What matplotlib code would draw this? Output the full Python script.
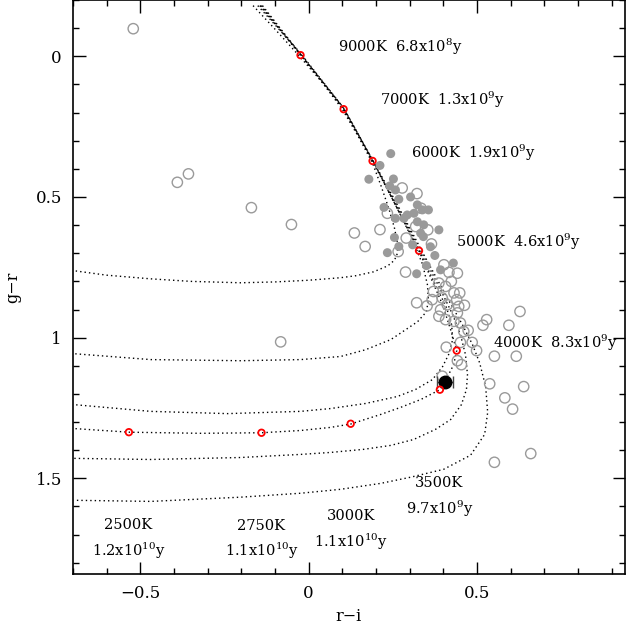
import matplotlib
matplotlib.use("Agg")
import matplotlib.pyplot as plt
from matplotlib.ticker import MultipleLocator, FixedLocator, FixedFormatter

plt.rcParams['font.family'] = ['DejaVu Serif']
plt.rcParams['mathtext.fontset'] = 'dejavuserif'
plt.rcParams['mathtext.default'] = 'regular'

# ---------------- data ----------------
# model tracks (r-i, g-r)
trackA_x = [-0.165, -0.095, -0.03, 0.04, 0.10, 0.15, 0.19, 0.215, 0.238, 0.255, 0.265, 0.264, 0.255, 0.235, 0.193, 0.14, 0.095, 0.0, -0.1, -0.202, -0.35, -0.469, -0.6, -0.698]
trackA_y = [-0.18, -0.09, -0.004, 0.092, 0.188, 0.29, 0.38, 0.46, 0.54, 0.61, 0.67, 0.70, 0.725, 0.745, 0.766, 0.78, 0.787, 0.796, 0.802, 0.805, 0.8, 0.791, 0.778, 0.762]

trackB_x = [-0.151, -0.024, 0.104, 0.19, 0.258, 0.309, 0.339, 0.353, 0.356, 0.35, 0.324, 0.288, 0.244, 0.169, 0.095, -0.024, -0.202, -0.469, -0.698]
trackB_y = [-0.18, -0.011, 0.184, 0.369, 0.528, 0.652, 0.741, 0.812, 0.865, 0.908, 0.943, 0.972, 1.007, 1.043, 1.067, 1.078, 1.082, 1.078, 1.057]

trackC_x = [-0.145, -0.024, 0.104, 0.19, 0.258, 0.328, 0.377, 0.410, 0.425, 0.428, 0.416, 0.398, 0.368, 0.318, 0.264, 0.169, 0.065, -0.024, -0.241, -0.469, -0.698]
trackC_y = [-0.18, -0.007, 0.188, 0.372, 0.528, 0.691, 0.812, 0.894, 0.954, 1.007, 1.06, 1.103, 1.149, 1.184, 1.209, 1.234, 1.252, 1.262, 1.27, 1.262, 1.238]

trackD_x = [-0.143, -0.024, 0.104, 0.19, 0.258, 0.328, 0.368, 0.398, 0.422, 0.44, 0.431, 0.405, 0.39, 0.333, 0.273, 0.214, 0.125, 0.065, -0.024, -0.14, -0.321, -0.534, -0.698]
trackD_y = [-0.18, -0.004, 0.188, 0.372, 0.528, 0.691, 0.801, 0.883, 0.972, 1.046, 1.096, 1.157, 1.185, 1.22, 1.248, 1.273, 1.307, 1.319, 1.33, 1.338, 1.34, 1.336, 1.323]

trackE_x = [-0.14, -0.024, 0.104, 0.19, 0.261, 0.333, 0.392, 0.428, 0.451, 0.466, 0.472, 0.469, 0.454, 0.422, 0.377, 0.312, 0.244, 0.163, 0.065, -0.024, -0.202, -0.469, -0.698]
trackE_y = [-0.18, -0.007, 0.184, 0.369, 0.528, 0.691, 0.83, 0.918, 0.989, 1.06, 1.131, 1.184, 1.238, 1.291, 1.326, 1.362, 1.383, 1.397, 1.408, 1.415, 1.426, 1.433, 1.429]

trackF_x = [-0.137, -0.024, 0.104, 0.19, 0.264, 0.336, 0.407, 0.457, 0.487, 0.508, 0.526, 0.532, 0.523, 0.481, 0.401, 0.303, 0.214, 0.095, -0.024, -0.202, -0.469, -0.698]
trackF_y = [-0.18, -0.007, 0.184, 0.369, 0.528, 0.691, 0.848, 0.954, 1.025, 1.089, 1.174, 1.266, 1.344, 1.418, 1.468, 1.496, 1.518, 1.539, 1.553, 1.567, 1.582, 1.578]

# observed stars: filled grey
filled_x = [0.244, 0.212, 0.179, 0.252, 0.241, 0.258, 0.224, 0.268, 0.323, 0.338, 0.356, 0.313, 0.293, 0.258, 0.283,
            0.323, 0.342, 0.333, 0.341, 0.387, 0.255, 0.234, 0.321, 0.375, 0.35, 0.392, 0.43, 0.268, 0.303, 0.362, 0.309]
filled_y = [0.346, 0.388, 0.437, 0.436, 0.461, 0.475, 0.537, 0.508, 0.528, 0.546, 0.546, 0.558, 0.564, 0.576, 0.576,
            0.588, 0.599, 0.629, 0.641, 0.617, 0.644, 0.698, 0.773, 0.708, 0.744, 0.759, 0.735, 0.676, 0.5, 0.677, 0.67]

# observed stars: open grey
open_x = [-0.521, -0.39, -0.357, -0.17, -0.051, -0.083, 0.136, 0.168, 0.212, 0.234, 0.278, 0.322, 0.334, 0.266, 0.288,
          0.354, 0.365, 0.318, 0.29, 0.321, 0.352, 0.367, 0.463, 0.474, 0.461, 0.451, 0.486, 0.499, 0.409, 0.442,
          0.454, 0.397, 0.518, 0.529, 0.595, 0.628, 0.552, 0.617, 0.538, 0.639, 0.583, 0.606, 0.66, 0.552,
          0.402, 0.417, 0.424, 0.407, 0.432, 0.44, 0.446, 0.392, 0.387, 0.407, 0.451, 0.442, 0.387, 0.371, 0.397,
          0.412, 0.442, 0.432, 0.449]
open_y = [-0.098, 0.448, 0.418, 0.538, 0.598, 1.015, 0.628, 0.676, 0.616, 0.558, 0.468, 0.488, 0.54, 0.694, 0.767,
          0.617, 0.667, 0.605, 0.646, 0.876, 0.887, 0.865, 0.885, 0.974, 0.978, 1.017, 1.017, 1.046, 1.034, 1.082,
          1.096, 1.137, 0.956, 0.936, 0.956, 0.907, 1.066, 1.066, 1.164, 1.174, 1.214, 1.254, 1.412, 1.443,
          0.741, 0.768, 0.8, 0.818, 0.841, 0.865, 0.889, 0.901, 0.924, 0.936, 0.948, 0.771, 0.806, 0.836, 0.859,
          0.883, 0.912, 0.942, 0.841]

# marked track points (red)
mark_x = [-0.024, 0.104, 0.19, 0.328, 0.44, 0.39, 0.125, -0.14, -0.534]
mark_y = [-0.004, 0.188, 0.372, 0.691, 1.046, 1.185, 1.306, 1.338, 1.336]

# target star with error bar
target_x = [0.405]
target_y = [1.157]
target_xerr = [0.023]

# annotations
labels_right = ['9000K  6.8x10$^{8}$y', '7000K  1.3x10$^{9}$y', '6000K  1.9x10$^{9}$y',
                '5000K  4.6x10$^{9}$y', '4000K  8.3x10$^{9}$y']
labels_right_pos = [(0.086, -0.035), (0.211, 0.156), (0.303, 0.344), (0.437, 0.66), (0.549, 1.018)]
labels_temp = ['3500K', '3000K', '2750K', '2500K']
labels_age = ['9.7x10$^{9}$y', '1.1x10$^{10}$y', '1.1x10$^{10}$y', '1.2x10$^{10}$y']
labels_low_pos = [(0.389, 1.518, 1.61), (0.125, 1.635, 1.727), (-0.14, 1.67, 1.759), (-0.535, 1.667, 1.759)]

xticks = [-0.5, 0, 0.5]
xticklabels = ['\u22120.5', '0', '0.5']
yticks = [0, 0.5, 1, 1.5]
yticklabels = ['0', '0.5', '1', '1.5']

# ---------------- plot ----------------
fig = plt.figure(figsize=(6.32, 6.32), dpi=100)
ax = fig.add_axes([73 / 632, 58 / 632, 552 / 632, 574 / 632])

dot = (0, (1, 2.2))
for tx, ty in [(trackA_x, trackA_y), (trackB_x, trackB_y), (trackC_x, trackC_y),
               (trackD_x, trackD_y), (trackE_x, trackE_y), (trackF_x, trackF_y)]:
    ax.plot(tx, ty, color='black', lw=1.0, linestyle=dot, zorder=2)

ax.scatter(open_x, open_y, s=55, facecolors='none', edgecolors='#9a9a9a', linewidths=1.0, zorder=3)
ax.scatter(filled_x, filled_y, s=42, color='#9a9a9a', edgecolors='none', zorder=3)
ax.scatter(mark_x, mark_y, s=22, facecolors='none', edgecolors='red', linewidths=1.3, zorder=5)
ax.errorbar(target_x, target_y, xerr=target_xerr, fmt='o', color='black', ms=9,
            ecolor='#444444', elinewidth=1.0, capsize=4, capthick=1.0, zorder=4)

for txt, (x, y) in zip(labels_right, labels_right_pos):
    ax.text(x, y, txt, fontsize=10.5, ha='left', va='center', zorder=6)
for t, a, (x, y1, y2) in zip(labels_temp, labels_age, labels_low_pos):
    ax.text(x, y1, t, fontsize=10.5, ha='center', va='center')
    ax.text(x, y2, a, fontsize=10.5, ha='center', va='center')

ax.set_xlim(-0.7, 0.94)
ax.set_ylim(1.84, -0.2)
ax.xaxis.set_major_locator(FixedLocator(xticks))
ax.xaxis.set_major_formatter(FixedFormatter(xticklabels))
ax.yaxis.set_major_locator(FixedLocator(yticks))
ax.yaxis.set_major_formatter(FixedFormatter(yticklabels))
ax.xaxis.set_minor_locator(MultipleLocator(0.1))
ax.yaxis.set_minor_locator(MultipleLocator(0.1))
ax.tick_params(which='both', direction='in', top=True, right=True, labelsize=12, width=1.0)
ax.tick_params(which='major', length=9, pad=8)
ax.tick_params(which='minor', length=4.5)
for sp in ax.spines.values():
    sp.set_linewidth(1.2)

ax.set_xlabel('r\u2212i', fontsize=11.5, labelpad=4)
ax.set_ylabel('g\u2212r', fontsize=11.5, labelpad=10)

fig.savefig('out.png', dpi=100)
